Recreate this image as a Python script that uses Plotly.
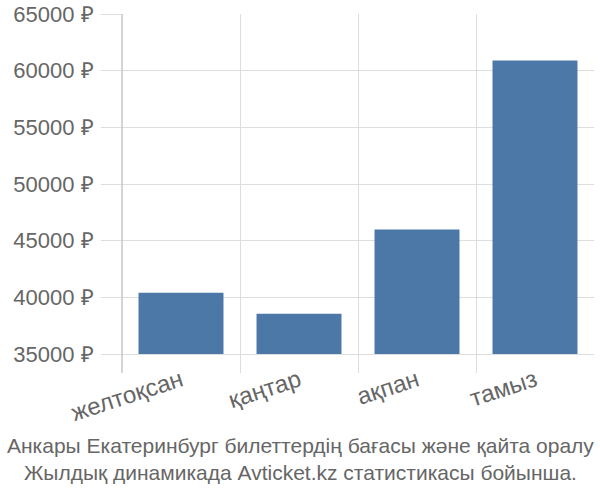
import plotly.graph_objects as go

categories = ["желтоқсан", "қаңтар", "ақпан", "тамыз"]
prices = [40400, 38550, 46000, 60900]
y_ticks = [35000, 40000, 45000, 50000, 55000, 60000, 65000]
y_tick_labels = [f"{v} ₽" for v in y_ticks]
base_value = 35000
title_lines = ["Анкары Екатеринбург билеттердің бағасы және қайта оралу",
               "Жылдық динамикада Avticket.kz статистикасы бойынша."]

x_pos = list(range(len(categories)))
bounds = [i - 0.5 for i in range(len(categories) + 1)]

fig = go.Figure()
fig.add_trace(go.Bar(
    x=x_pos, y=[p - base_value for p in prices], base=base_value,
    marker=dict(color="#4c78a8", line=dict(width=0)),
    width=0.72, hoverinfo="skip", xaxis="x", yaxis="y",
))
fig.add_trace(go.Scatter(x=bounds, y=[base_value] * len(bounds), mode="markers",
                         marker=dict(opacity=0), xaxis="x2", yaxis="y", hoverinfo="skip"))

font_family = "Liberation Sans, Arial, sans-serif"
fig.update_layout(
    width=600, height=500,
    margin=dict(l=122, r=6, t=14, b=127),
    paper_bgcolor="white", plot_bgcolor="white",
    showlegend=False,
    font=dict(family=font_family, color="#666666"),
    xaxis=dict(
        range=[-0.5, len(categories) - 0.5], automargin=False,
        tickvals=x_pos, ticktext=categories, tickangle=-18,
        tickfont=dict(size=24, color="#666666"),
        showgrid=False, zeroline=False, showline=False, ticks="",
        ticklabelstandoff=-12,
    ),
    xaxis2=dict(
        overlaying="x", range=[-0.5, len(categories) - 0.5], automargin=False,
        tickvals=bounds, showticklabels=False, showgrid=True,
        gridcolor="#dddddd", gridwidth=1, zeroline=False, showline=False, ticks="",
        side="bottom",
    ),
    yaxis=dict(
        range=[33330, 65000], automargin=False,
        tickvals=y_ticks, ticktext=y_tick_labels,
        tickfont=dict(size=22, color="#666666"),
        showgrid=True, gridcolor="#dddddd", gridwidth=1,
        ticks="outside", ticklen=20, tickcolor="#dddddd", ticklabelstandoff=3,
        zeroline=False, showline=False,
    ),
    annotations=[dict(
        text="<br>".join(title_lines), xref="paper", yref="paper",
        x=0.5, xanchor="center", y=-0.17, yanchor="top", showarrow=False,
        xshift=-58, yshift=2,
        font=dict(size=21, color="#666666", family=font_family), align="center",
    )],
    shapes=[dict(type="line", xref="paper", yref="paper", x0=0, x1=0, y0=0, y1=1,
                 line=dict(color="#aaaaaa", width=1))],
)

fig.write_html("out.html")
